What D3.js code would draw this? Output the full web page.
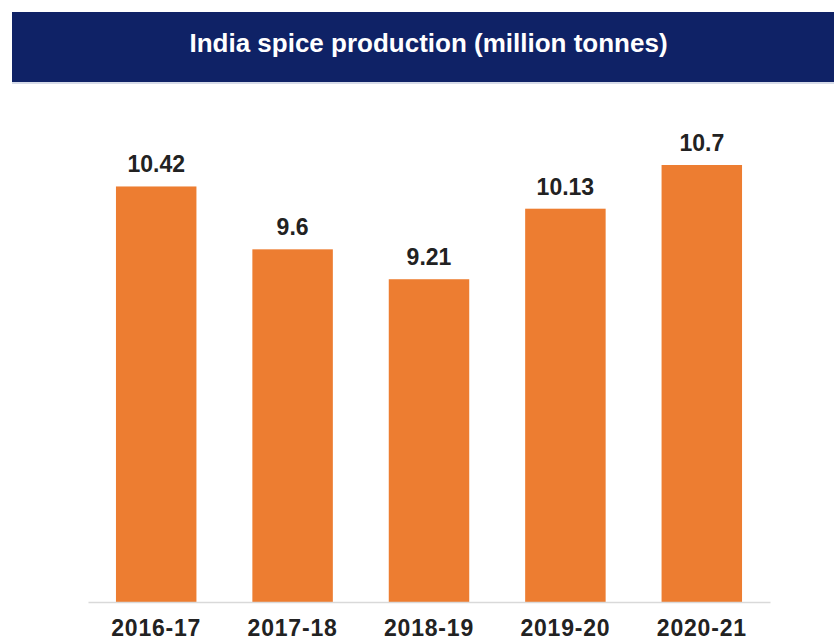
<!DOCTYPE html>
<html>
<head>
<meta charset="utf-8">
<script src="https://cdn.jsdelivr.net/npm/d3@7"></script>
<style>
  html, body { margin: 0; padding: 0; background: #ffffff; }
  svg { display: block; }
</style>
</head>
<body>
<svg id="chart" width="834" height="641"></svg>
<script>
// Spice production by crop year (million tonnes)
const years = ["2016-17", "2017-18", "2018-19", "2019-20", "2020-21"];
const production = [10.42, 9.6, 9.21, 10.13, 10.7];
const chartTitle = "India spice production (million tonnes)";

const svg = d3.select("#chart");
const W = 834, H = 641;
const FONT = "'Liberation Sans', Arial, sans-serif";

// Title banner
svg.append("rect")
  .attr("x", 12).attr("y", 12)
  .attr("width", W - 12).attr("height", 70)
  .attr("fill", "#0f2266");
svg.append("line")
  .attr("x1", 12).attr("x2", W)
  .attr("y1", 83).attr("y2", 83)
  .attr("stroke", "#c9cfe0").attr("stroke-width", 1.5);
svg.append("text")
  .attr("x", 428.5).attr("y", 52)
  .attr("text-anchor", "middle")
  .attr("fill", "#ffffff")
  .attr("font-family", FONT)
  .attr("font-weight", "bold")
  .attr("font-size", 26)
  .text(chartTitle);

// Scales
const x = d3.scaleBand()
  .domain(years)
  .range([88, 770])
  .paddingInner(0.41)
  .paddingOuter(0.205);

const y = d3.scaleLinear()
  .domain([5, 10.7])
  .range([602, 165]);

// Bars
svg.append("g")
  .selectAll("rect")
  .data(production)
  .join("rect")
  .attr("x", (d, i) => x(years[i]))
  .attr("y", d => y(d))
  .attr("width", x.bandwidth())
  .attr("height", d => y(5) - y(d))
  .attr("fill", "#ed7d31");

// Value labels
svg.append("g")
  .selectAll("text")
  .data(production)
  .join("text")
  .attr("x", (d, i) => x(years[i]) + x.bandwidth() / 2)
  .attr("y", d => y(d) - 14)
  .attr("text-anchor", "middle")
  .attr("fill", "#222222")
  .attr("font-family", FONT)
  .attr("font-weight", "bold")
  .attr("font-size", 23)
  .text(d => String(d));

// Category axis
const xAxis = svg.append("g")
  .attr("transform", `translate(0,${y(5)})`)
  .call(d3.axisBottom(x).tickSize(0));
xAxis.select(".domain")
  .attr("stroke", "#d9d9d9")
  .attr("stroke-width", 1.5);
xAxis.selectAll(".tick text")
  .attr("y", 34)
  .attr("dy", 0)
  .attr("fill", "#222222")
  .attr("font-family", FONT)
  .attr("font-weight", "bold")
  .attr("font-size", 23)
  .attr("letter-spacing", 0.8);
</script>
</body>
</html>
